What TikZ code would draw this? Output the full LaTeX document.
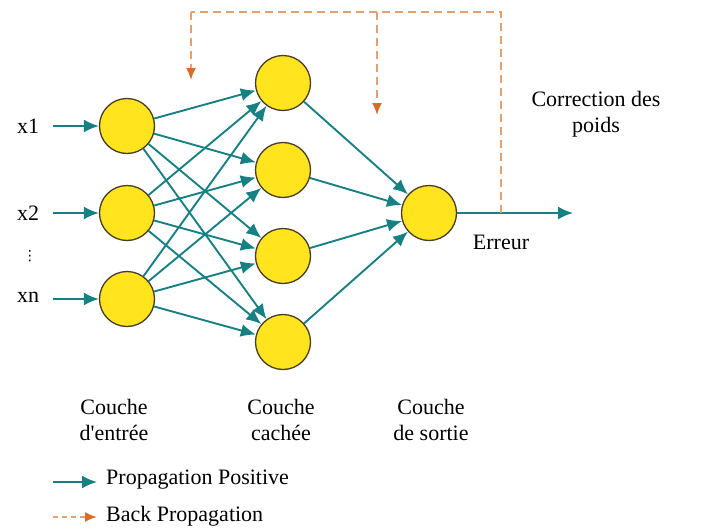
\documentclass[tikz,border=0pt]{standalone}
\usepackage{fontspec}
\setmainfont{Liberation Serif}[Ligatures=TeXOff]
\newfontfamily\dvfont{DejaVu Sans}
\usetikzlibrary{arrows.meta}
\definecolor{teal1}{RGB}{22,128,130}
\definecolor{dashc}{RGB}{228,160,110}
\definecolor{tipc}{RGB}{214,110,40}
\definecolor{neur}{RGB}{255,228,30}
\definecolor{neurb}{RGB}{70,60,40}
\begin{document}
\begin{tikzpicture}[x=1pt,y=-1pt,
  neuron/.style={circle, draw=neurb, line width=1.3pt, fill=neur, minimum size=55pt, inner sep=0pt},
  fwd/.style={teal1, line width=1.9pt, -{Latex[length=15pt,width=13pt]}},
  back/.style={dashc, line width=1.8pt, dash pattern=on 8pt off 5pt, -{Latex[length=12pt,width=10pt,color=tipc]}},
  lbl/.style={font=\fontsize{22}{26}\selectfont, align=center, inner sep=0pt}]
\useasboundingbox (0,0) rectangle (728,530);

% input layer
\node[neuron] (i1) at (127,126) {};
\node[neuron] (i2) at (127,213) {};
\node[neuron] (i3) at (127,299) {};
% hidden layer
\node[neuron] (h1) at (283,83) {};
\node[neuron] (h2) at (283,170) {};
\node[neuron] (h3) at (283,256) {};
\node[neuron] (h4) at (283,342) {};
% output
\node[neuron] (o) at (429,213) {};

% input labels
\node[lbl] (x1) at (28,126) {x1};
\node[lbl] (x2) at (28,213) {x2};
\node[lbl] (xn) at (28,297) {xn};
\node[inner sep=0pt, font=\dvfont\fontsize{14}{14}\selectfont] (vd) at (30,256) {⋮};

\coordinate (a1) at (53,126);
\coordinate (a2) at (53,213);
\coordinate (a3) at (53,299);
\draw[fwd] (a1) -- (i1);
\draw[fwd] (a2) -- (i2);
\draw[fwd] (a3) -- (i3);

% connections input -> hidden
\foreach \i in {i1,i2,i3}{
  \foreach \h in {h1,h2,h3,h4}{
    \draw[fwd] (\i) -- (\h);
  }
}
% hidden -> output
\foreach \h in {h1,h2,h3,h4}{
  \draw[fwd] (\h) -- (o);
}

% output arrow
\coordinate (err) at (501,213);
\coordinate (oe) at (573,213);
\draw[fwd] (o) -- (oe);
\node[lbl] (erreur) at (501,242) {Erreur};

% back propagation
\coordinate (t1) at (501,12);
\coordinate (t2) at (377,12);
\coordinate (t3) at (191,12);
\coordinate (d1) at (191,80);
\coordinate (d2) at (377,115);
\draw[dashc, line width=1.8pt, dash pattern=on 8pt off 5pt] (err) -- (t1) -- (t3);
\draw[back] (t3) -- (d1);
\draw[back] (t2) -- (d2);

\node[lbl] (corr) at (596,114) {Correction des\\poids};

% layer labels
\node[lbl] (l1) at (114,420) {Couche\\d'entrée};
\node[lbl] (l2) at (281,420) {Couche\\cachée};
\node[lbl] (l3) at (431,420) {Couche\\de sortie};

% legend
\coordinate (p1) at (53,482);
\coordinate (p2) at (97,482);
\coordinate (b1) at (53,517);
\coordinate (b2) at (97,517);
\draw[fwd] (p1) -- (p2);
\draw[back, dash pattern=on 5pt off 4pt] (b1) -- (b2);
\node[lbl, anchor=west] (pp) at (106,480) {Propagation Positive};
\node[lbl, anchor=west] (bp) at (106,516) {Back Propagation};
\end{tikzpicture}
\end{document}
